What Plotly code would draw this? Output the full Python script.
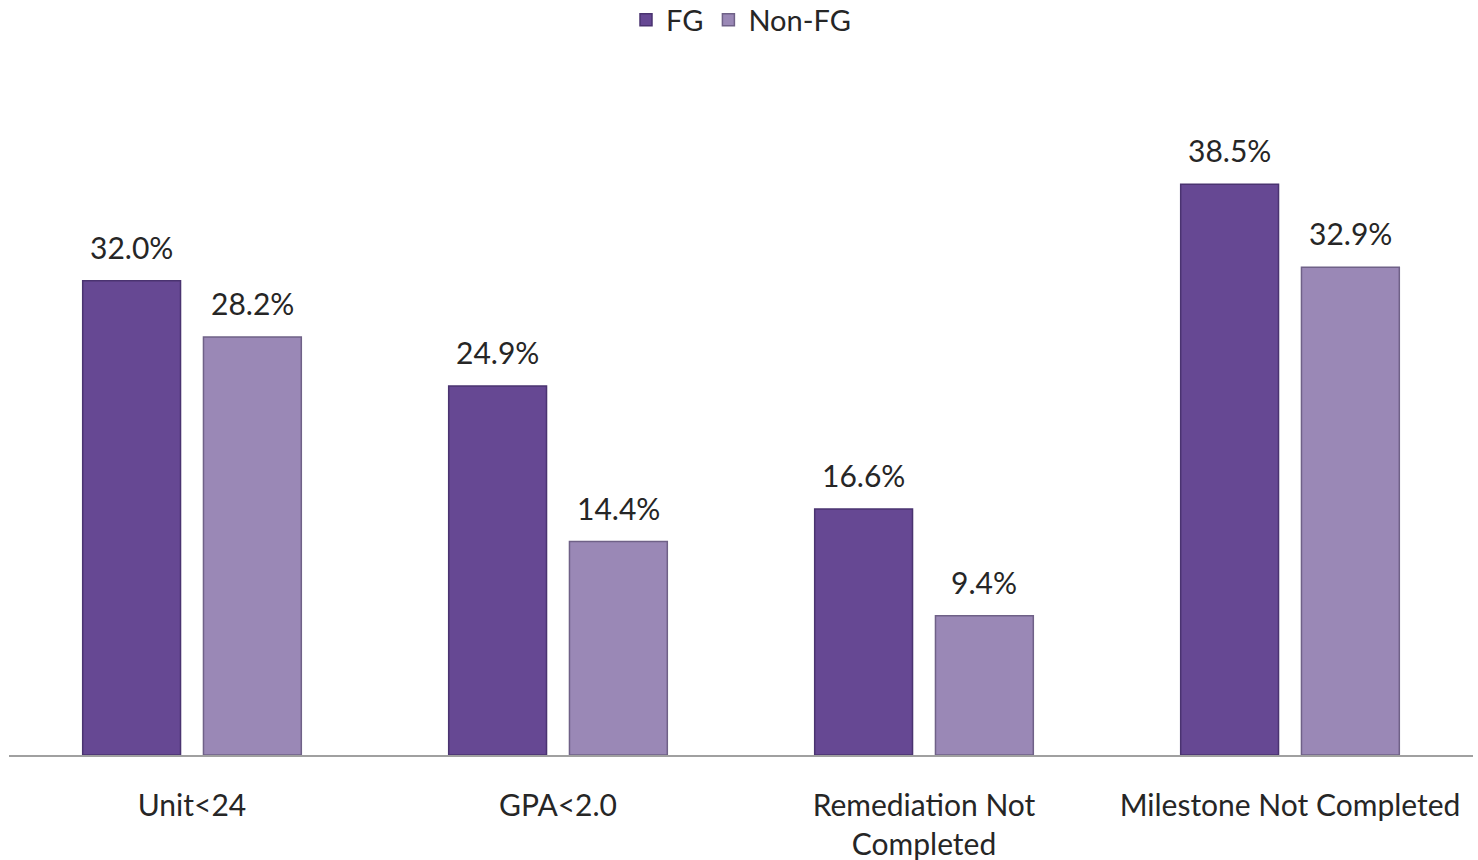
import plotly.graph_objects as go

categories = ["Unit<24", "GPA<2.0", "Remediation Not<br>Completed", "Milestone Not Completed"]
fg_values = [32.0, 24.9, 16.6, 38.5]
nonfg_values = [28.2, 14.4, 9.4, 32.9]
series_names = ["FG", "Non-FG"]

FONT = "Lato"
BARGAP = 0.34
colors = ["#664893", "#9A88B6"]
line_colors = ["#4A3370", "#6F6187"]

fig = go.Figure()
for name, vals, c, lc in zip(series_names, [fg_values, nonfg_values], colors, line_colors):
    fig.add_trace(go.Bar(
        name=name, x=categories, y=vals,
        marker=dict(color=c, line=dict(color=lc, width=1.5)),
    ))

# value labels above bars
slot = (1 - BARGAP) / 2
for s, vals in enumerate([fg_values, nonfg_values]):
    off = (s - 0.5) * slot
    for i, v in enumerate(vals):
        fig.add_annotation(x=i + off, y=v, xref="x", yref="y", text=f"{v:.1f}%",
                           showarrow=False, yanchor="bottom", yshift=14,
                           font=dict(size=30, color="#262626", family=FONT))

fig.update_layout(
    width=1478, height=860,
    margin=dict(l=9, r=5, t=88, b=105, autoexpand=False),
    paper_bgcolor="white", plot_bgcolor="white",
    barmode="group", bargap=BARGAP, bargroupgap=0.19,
    font=dict(family=FONT, size=30, color="#262626"),
    showlegend=True,
    legend=dict(orientation="h", x=0.5, xanchor="center", y=1.102, yanchor="middle",
                yref="paper", font=dict(size=29, family=FONT),
                itemwidth=30, traceorder="normal", borderwidth=0,
                tracegroupgap=0, valign="middle"),
    xaxis=dict(showline=True, linecolor="#A0A0A0", linewidth=2, ticks="",
               ticklabelstandoff=23, automargin=False,
               tickfont=dict(size=30, family=FONT, color="#262626"), showgrid=False),
    yaxis=dict(range=[0, 45], visible=False, showgrid=False, zeroline=False,
               automargin=False),
)

fig.write_html("out.html")
